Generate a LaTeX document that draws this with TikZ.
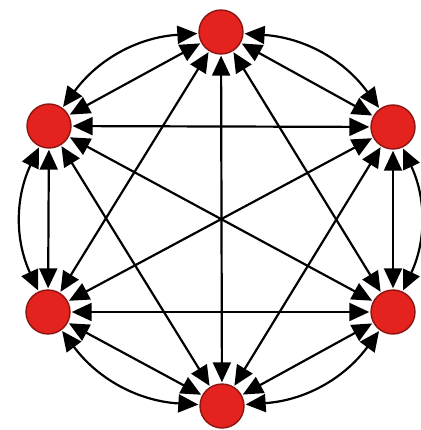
\documentclass[tikz,border=0pt]{standalone}
\usepackage{tikz}
\usetikzlibrary{arrows.meta}
\definecolor{dotred}{RGB}{228,34,30}
\definecolor{dotrim}{RGB}{140,20,18}
\tikzset{vertex/.style={circle, draw=dotrim, fill=dotred, line width=1.4pt, minimum size=44pt, inner sep=0pt},
chord/.style={{Triangle[length=20pt,width=18pt]}-{Triangle[length=20pt,width=18pt]}, line width=2.2pt, shorten <=1pt, shorten >=1pt},
rim/.style={chord, bend left=25}}

\begin{document}
\begin{tikzpicture}[x=1pt, y=-1pt]
  \useasboundingbox (0,0) rectangle (420,430);
  % vertices
  \node[vertex] (top) at (221,32) {};
  \node[vertex] (upr) at (393,127) {};
  \node[vertex] (lor) at (393,312) {};
  \node[vertex] (bot) at (222,406) {};
  \node[vertex] (lol) at (48,312) {};
  \node[vertex] (upl) at (49,126) {};
  % outer arcs
  \draw[rim] (top) to (upr); \draw[rim] (upr) to (lor); \draw[rim] (lor) to (bot);
  \draw[rim] (bot) to (lol); \draw[rim] (lol) to (upl); \draw[rim] (upl) to (top);
  % sides
  \draw[chord] (top) -- (upr); \draw[chord] (upr) -- (lor); \draw[chord] (lor) -- (bot);
  \draw[chord] (bot) -- (lol); \draw[chord] (lol) -- (upl); \draw[chord] (upl) -- (top);
  % diagonals
  \draw[chord] (top) -- (lor); \draw[chord] (top) -- (bot); \draw[chord] (top) -- (lol);
  \draw[chord] (upr) -- (bot); \draw[chord] (upr) -- (lol); \draw[chord] (upr) -- (upl);
  \draw[chord] (lor) -- (lol); \draw[chord] (lor) -- (upl); \draw[chord] (bot) -- (upl);
\end{tikzpicture}
\end{document}
